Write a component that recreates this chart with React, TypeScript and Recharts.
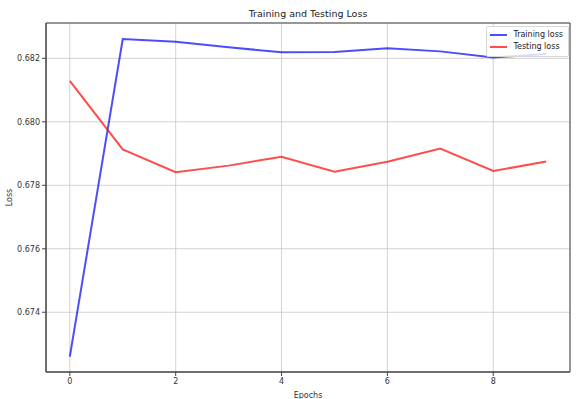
import {
  CartesianGrid,
  Label,
  Line,
  LineChart,
  ReferenceArea,
  XAxis,
  YAxis,
} from 'recharts';

const epochs = [0, 1, 2, 3, 4, 5, 6, 7, 8, 9];
const trainingLoss = [
  0.6726, 0.68261, 0.68252, 0.68235, 0.68219, 0.6822, 0.68232, 0.68222,
  0.68203, 0.68214,
];
const testingLoss = [
  0.68129, 0.67913, 0.67841, 0.67862, 0.6789, 0.67843, 0.67874, 0.67916,
  0.67845, 0.67875,
];
const xTicks = [0, 2, 4, 6, 8];
const yTicks = [0.674, 0.676, 0.678, 0.68, 0.682];

const X_DOMAIN: [number, number] = [-0.45, 9.45];
const Y_DOMAIN: [number, number] = [0.672117, 0.683114];

const TRAIN_COLOR = 'rgba(0, 0, 255, 0.7)';
const TEST_COLOR = 'rgba(255, 0, 0, 0.7)';
const FONT = '"DejaVu Sans", sans-serif';

const data = epochs.map((epoch, i) => ({
  epoch,
  train: trainingLoss[i],
  test: testingLoss[i],
}));

const legendItems = [
  { label: 'Training loss', color: TRAIN_COLOR },
  { label: 'Testing loss', color: TEST_COLOR },
];

function LossLegend() {
  return (
    <div
      style={{
        position: 'absolute',
        top: 26,
        right: 7,
        background: 'rgba(255,255,255,0.8)',
        border: '1px solid #d8d8d8',
        borderRadius: 2,
        padding: '2px 5px 3px 3px',
        fontFamily: FONT,
        fontSize: 8,
        color: '#222',
        lineHeight: '12px',
      }}
    >
      {legendItems.map((item) => (
        <div key={item.label} style={{ display: 'flex', alignItems: 'center' }}>
          <span
            style={{
              display: 'inline-block',
              width: 17,
              height: 2,
              background: item.color,
              marginRight: 6,
            }}
          />
          {item.label}
        </div>
      ))}
    </div>
  );
}

export default function App() {
  return (
    <div
      style={{
        position: 'absolute',
        left: 0,
        top: 0,
        width: 576,
        height: 399,
        background: '#fff',
      }}
    >
      <div
        style={{
          position: 'absolute',
          left: 0,
          top: 8,
          width: 576,
          textAlign: 'center',
          fontFamily: FONT,
          fontSize: 9.5,
          color: '#222',
          paddingLeft: 40,
          boxSizing: 'border-box',
        }}
      >
        Training and Testing Loss
      </div>
      <LineChart
        width={576}
        height={399}
        data={data}
        margin={{ top: 23, right: 6, bottom: 0, left: 0 }}
      >
        <CartesianGrid stroke="#c8c8c8" strokeWidth={0.8} />
        <XAxis
          dataKey="epoch"
          type="number"
          domain={X_DOMAIN}
          ticks={xTicks}
          height={27}
          tickSize={4}
          tick={{ fontSize: 8, fill: '#333', fontFamily: FONT }}
          tickLine={{ stroke: '#444' }}
          axisLine={{ stroke: '#444' }}
          allowDataOverflow
        >
          <Label
            value="Epochs"
            position="insideBottom"
            offset={1}
            style={{ fontSize: 8, fill: '#333', fontFamily: FONT }}
          />
        </XAxis>
        <YAxis
          type="number"
          domain={Y_DOMAIN}
          ticks={yTicks}
          width={46}
          tickSize={4}
          tickFormatter={(v: number) => v.toFixed(3)}
          tick={{ fontSize: 8, fill: '#333', fontFamily: FONT }}
          tickLine={{ stroke: '#444' }}
          axisLine={{ stroke: '#444' }}
          allowDataOverflow
        >
          <Label
            value="Loss"
            angle={-90}
            position="insideLeft"
            offset={9}
            style={{ fontSize: 8, fill: '#333', fontFamily: FONT, textAnchor: 'middle' }}
          />
        </YAxis>
        <ReferenceArea
          x1={X_DOMAIN[0]}
          x2={X_DOMAIN[1]}
          y1={Y_DOMAIN[0]}
          y2={Y_DOMAIN[1]}
          fill="none"
          stroke="#444"
          strokeWidth={1}
        />
        <Line
          dataKey="train"
          name="Training loss"
          stroke={TRAIN_COLOR}
          strokeWidth={2}
          dot={false}
          isAnimationActive={false}
        />
        <Line
          dataKey="test"
          name="Testing loss"
          stroke={TEST_COLOR}
          strokeWidth={2}
          dot={false}
          isAnimationActive={false}
        />
      </LineChart>
      <LossLegend />
    </div>
  );
}
